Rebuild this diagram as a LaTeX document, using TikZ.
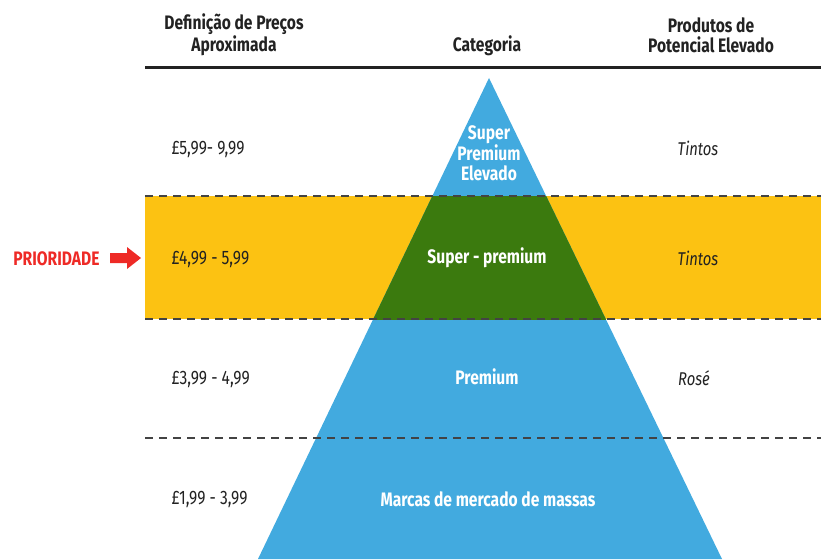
\documentclass[tikz,border=0pt]{standalone}
\usepackage{fontspec}
\setmainfont{Fira Sans}[FakeStretch=0.8]
\definecolor{pyrblue}{HTML}{42AADF}
\definecolor{bandyellow}{HTML}{FCC212}
\definecolor{prigreen}{HTML}{3B7A0E}
\definecolor{prired}{HTML}{EE2A26}
\definecolor{inkgray}{HTML}{222222}
\tikzset{
  head/.style={font=\bfseries\fontsize{19.5}{20}\selectfont, text=inkgray, align=center},
  price/.style={font=\fontsize{19.5}{20}\selectfont, text=inkgray, anchor=west},
  prod/.style={font=\itshape\fontsize{18.5}{20}\selectfont, text=inkgray},
  cat/.style={font=\bfseries\fontsize{19.5}{20}\selectfont, text=white, align=center},
  sep/.style={draw=inkgray!85, line width=1.3pt, dash pattern=on 8pt off 6pt}
}
\begin{document}
\begin{tikzpicture}[x=1pt, y=-1pt]
	\useasboundingbox (0,0) rectangle (821,559);

	% band and pyramid
	\fill[bandyellow] (145,196) rectangle (821,319);
	\fill[pyrblue] (489,78) -- (722,559) -- (258,559) -- cycle;
	\begin{scope}
		\clip (145,196) rectangle (821,319);
		\fill[prigreen] (489,78) -- (722,559) -- (258,559) -- cycle;
	\end{scope}

	% rules
	\draw[inkgray, line width=2.6pt] (145,67.5) -- (821,67.5);
	\draw[sep] (145,196) -- (821,196);
	\draw[sep] (145,319) -- (821,319);
	\draw[sep] (145,438) -- (821,438);

	% headers
	\node[head] (hprice) at (234,35) {Definição de Preços\\Aproximada};
	\node[head] (hcat) at (487,46) {Categoria};
	\node[head] (hprod) at (711,35) {Produtos de\\Potencial Elevado};

	% prices
	\node[price] (p1) at (168,149) {£5,99- 9,99};
	\node[price] (p2) at (168,259) {£4,99 - 5,99};
	\node[price] (p3) at (168,379) {£3,99 - 4,99};
	\node[price] (p4) at (168,499) {£1,99 - 3,99};

	% categories
	\node[cat] (c1) at (489,153) {Super\\Premium\\Elevado};
	\node[cat] (c2) at (487,258) {Super - premium};
	\node[cat] (c3) at (487,377) {Premium};
	\node[cat] (c4) at (488,499) {Marcas de mercado de massas};

	% products
	\node[prod] (r1) at (698,148) {Tintos};
	\node[prod] (r2) at (698,258) {Tintos};
	\node[prod] (r3) at (694,378) {Rosé};

	% priority marker
	\node[font=\bfseries\fontsize{19.5}{20}\selectfont, text=prired, anchor=east] (prio) at (103,259) {PRIORIDADE};
	\fill[prired] (110,253) -- (127,253) -- (127,247) -- (141,258) -- (127,269) -- (127,263) -- (110,263) -- cycle;
\end{tikzpicture}
\end{document}
